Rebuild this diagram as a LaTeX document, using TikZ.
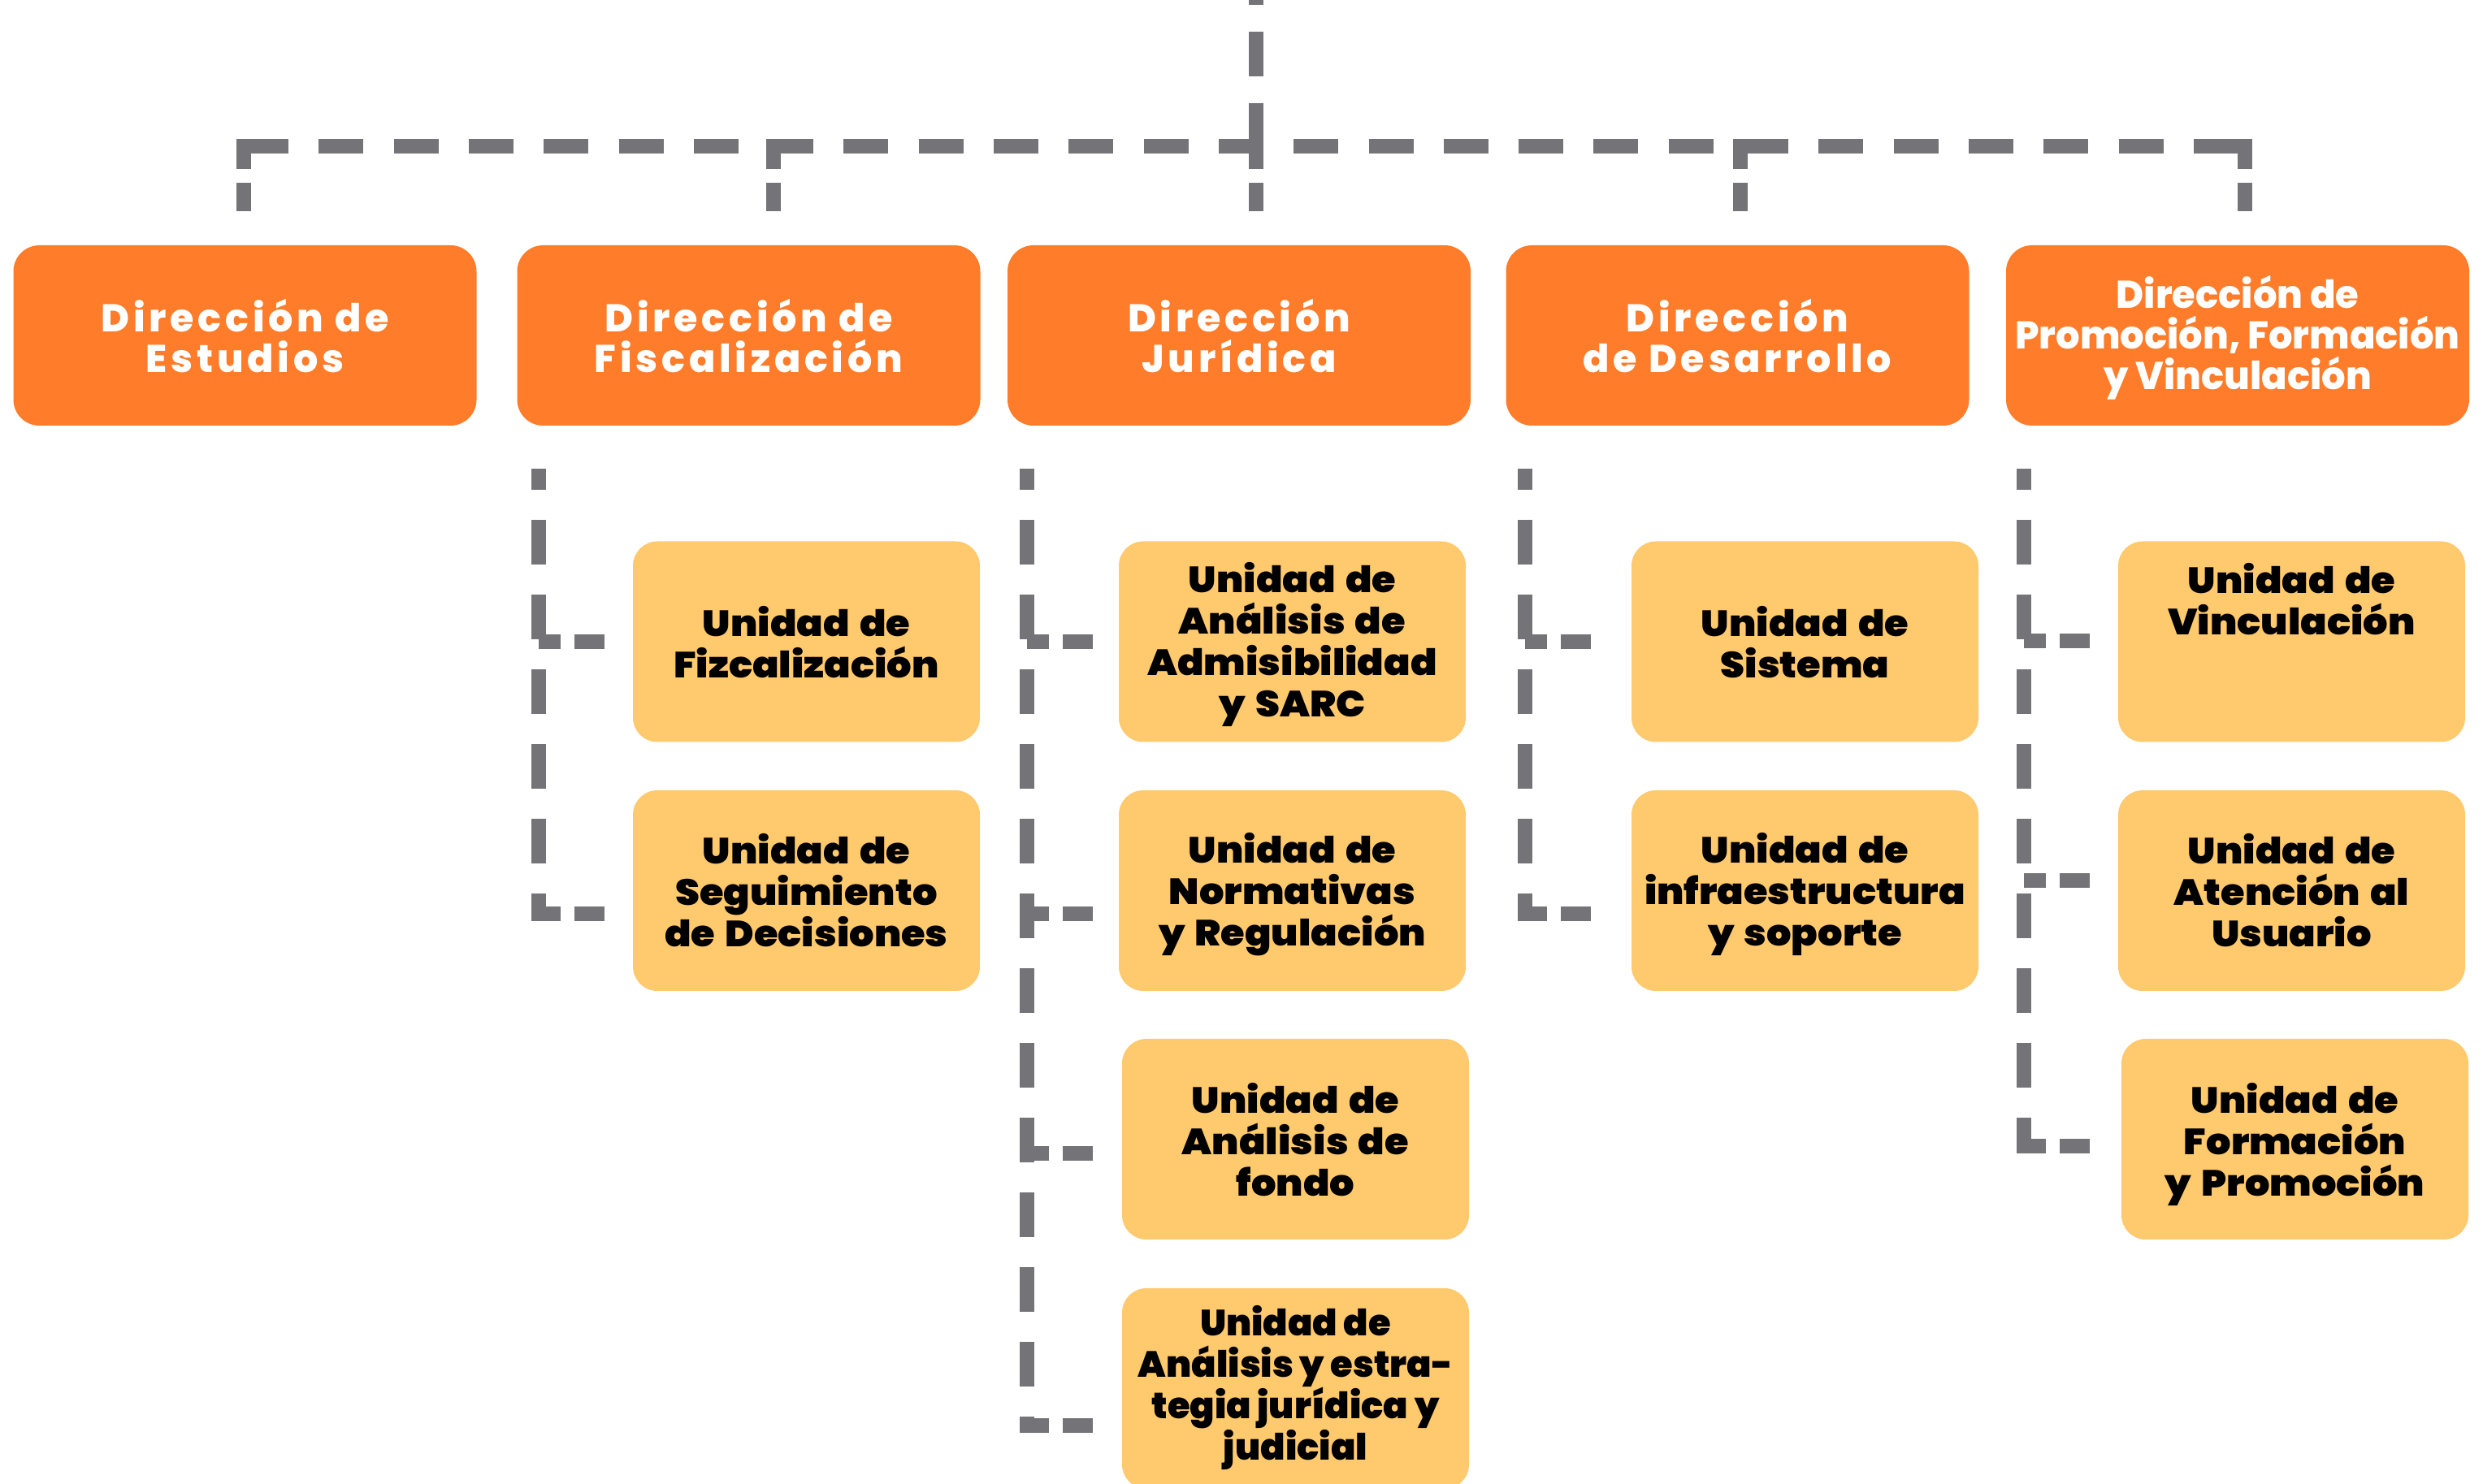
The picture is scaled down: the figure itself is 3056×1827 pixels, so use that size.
\documentclass[tikz,border=0pt]{standalone}
\usepackage{fontspec}
\IfFontExistsTF{Poppins Black}{%
  \newfontfamily\ufontraw{Poppins Black}[FakeStretch=1.07, WordSpace=1.5]
  \newfontfamily\ufontrawN{Poppins Black}
  \newcommand\unitfont{\ufontraw}\newcommand\unitfontN{\ufontrawN}}{%
  \newfontfamily\ufontraw{Poppins}[FakeStretch=1.07, WordSpace=1.5]
  \newfontfamily\ufontrawN{Poppins}
  \newcommand\unitfont{\ufontraw\bfseries}\newcommand\unitfontN{\ufontrawN\bfseries}}
\IfFontExistsTF{Poppins ExtraBold}{%
  \newfontfamily\dirfontraw{Poppins ExtraBold}[LetterSpace=10]
  \newfontfamily\dirfontplainraw{Poppins ExtraBold}[FakeStretch=0.975]
  \newcommand\dirfont{\dirfontraw}\newcommand\dirfontplain{\dirfontplainraw}}{%
  \newfontfamily\dirfontraw{Poppins}[LetterSpace=10]
  \newfontfamily\dirfontplainraw{Poppins}
  \newcommand\dirfont{\dirfontraw\bfseries}\newcommand\dirfontplain{\dirfontplainraw\bfseries}}
\definecolor{orangeC}{HTML}{FF7C2A}
\definecolor{yellowC}{HTML}{FFC96E}
\definecolor{grayC}{HTML}{747378}
\begin{document}
\begin{tikzpicture}[x=0.25pt,y=-0.25pt,
  dirbox/.style={rectangle, rounded corners=8pt, fill=orangeC, minimum width=142.5pt,
    minimum height=55.5pt, inner sep=0pt, text=white, align=center,
    font=\dirfont\fontsize{11.9}{12.5}\selectfont},
  dirboxtight/.style={dirbox, font=\dirfontplain\fontsize{11.9}{12.5}\selectfont},
  unitbox/.style={rectangle, rounded corners=7.5pt, fill=yellowC, minimum width=106.75pt,
    minimum height=61.75pt, inner sep=0pt, text=black, align=center,
    font=\unitfont\fontsize{11.2}{12.75}\selectfont},
  unitboxnarrow/.style={unitbox, font=\unitfontN\fontsize{11.2}{12.75}\selectfont},
  conn/.style={draw=grayC, line width=4.5pt},
  busline/.style={conn, dash pattern=on 13.75pt off 9.325pt},
  trunkline/.style={conn, dash pattern=on 13.75pt off 8.25pt},
  dropline/.style={conn, dash pattern=on 9.25pt off 4.25pt on 10pt off 10pt},
  colline/.style={conn, dash pattern=on 13.75pt off 9.25pt, dash phase=7.25pt},
  stubline/.style={conn, dash pattern=on 6.75pt off 4.25pt on 9.25pt off 10pt}
]
\useasboundingbox (0,0) rectangle (3056,1827);
\clip (0,0) rectangle (3056,1827);

% Direcciones
\node[dirbox, text depth=-2.5pt] (d1) at (301.5,413) {Dirección de\\Estudios};
\node[dirbox, text depth=-2.5pt] (d2) at (921.5,413) {Dirección de\\Fiscalización};
\node[dirbox, text depth=-2.5pt] (d3) at (1525,413) {Dirección\\Jurídica};
\node[dirbox, text depth=-2.5pt] (d4) at (2138.5,413) {Dirección\\de Desarrollo};
\node[dirboxtight, text depth=2pt] (d5) at (2754,413) {Dirección de\\Promoción, Formación\\y Vinculación};

% Unidades
\node[unitbox, text depth=-6.5pt] (u21) at (992.5,790) {Unidad de\\Fizcalización};
\node[unitbox] (u22) at (992.5,1096.5) {Unidad de\\Seguimiento\\de Decisiones};
\node[unitbox, text depth=1.1pt] (u31) at (1590.5,790) {Unidad de\\Análisis de\\Admisibilidad\\y SARC};
\node[unitbox, text depth=0.6pt] (u32) at (1590.5,1096.5) {Unidad de\\Normativas\\y Regulación};
\node[unitbox, text depth=-1pt] (u33) at (1594.5,1402.5) {Unidad de\\Análisis de\\fondo};
\node[unitboxnarrow, text depth=3.6pt] (u34) at (1594.5,1709.5) {Unidad de\\Análisis y estra-\\tegia jurídica y\\judicial};
\node[unitbox, text depth=-6.5pt] (u41) at (2221.5,790) {Unidad de\\Sistema};
\node[unitbox, text depth=0.6pt] (u42) at (2221.5,1096.5) {Unidad de\\infraestructura\\y soporte};
\node[unitbox, text depth=1pt] (u51) at (2820.5,790) {Unidad de\\Vinculación\\~\\~};
\node[unitbox] (u52) at (2820.5,1096.5) {Unidad de\\Atención al\\Usuario};
\node[unitbox, text depth=-0.2pt] (u53) at (2824.5,1402.5) {Unidad de\\Formación\\y Promoción};

% top structure coordinates
\coordinate (top) at (1546,-49);
\coordinate (tj) at (1546,182);
\coordinate (busL) at (300,180);
\coordinate (busR) at (2763,180);
\foreach \i/\x in {1/300,2/952,3/1546,4/2142,5/2763}{
  \coordinate (b\i) at (\x,171);
  \coordinate (e\i) at (\x,260);
}
\draw[trunkline] (top) -- (tj);
\draw[busline] (busL) -- (busR);
\foreach \i in {1,...,5}{\draw[dropline] (b\i) -- (e\i);}

% column lines
\coordinate (c2t) at (663,577);  \coordinate (c2b) at (663,1134);
\coordinate (c3t) at (1264,577); \coordinate (c3b) at (1264,1764);
\coordinate (c4t) at (1877,577); \coordinate (c4b) at (1877,1134);
\coordinate (c5t) at (2491,577); \coordinate (c5b) at (2491,1420);
\draw[colline] (c2t) -- (c2b);
\draw[colline] (c3t) -- (c3b);
\draw[colline] (c4t) -- (c4b);
\draw[colline] (c5t) -- (c5b);

% stubs
\foreach \n/\x/\y in {s21/663/790, s22/663/1125,
                      s31/1264/790, s32/1264/1125, s33/1264/1420, s34/1264/1755,
                      s41/1877/790, s42/1877/1125,
                      s51/2491/789, s52/2491/1084, s53/2491/1411}{
  \coordinate (\n a) at (\x,\y);
  \coordinate (\n b) at (\x+81,\y);
  \draw[stubline] (\n a) -- (\n b);
}
\end{tikzpicture}
\end{document}
